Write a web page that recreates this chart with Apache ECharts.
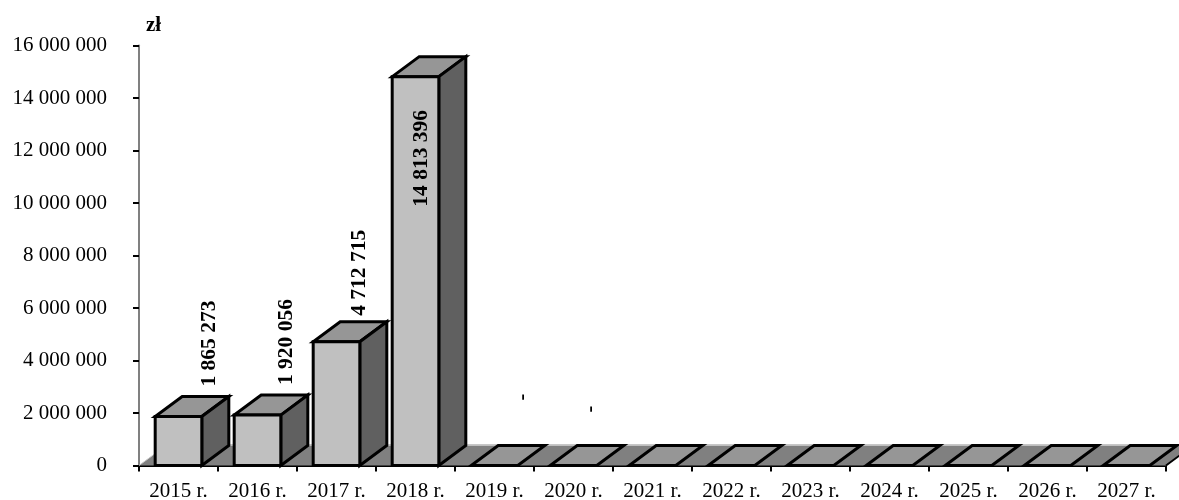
<!DOCTYPE html>
<html><head><meta charset="utf-8">
<style>html,body{margin:0;padding:0;background:#fff}#c{width:1179px;height:500px}</style>
<script src="https://cdn.jsdelivr.net/npm/echarts@6/dist/echarts.min.js"></script>
</head><body><div id="c"></div>
<script>
const categories = ['2015 r.','2016 r.','2017 r.','2018 r.','2019 r.','2020 r.','2021 r.','2022 r.','2023 r.','2024 r.','2025 r.','2026 r.','2027 r.'];
const values = [1865273,1920056,4712715,14813396,0,0,0,0,0,0,0,0,0];
const valueLabels = ['1 865 273','1 920 056','4 712 715','14 813 396','-','-','','','','','','',''];
const yMax = 16000000, yStep = 2000000;
const FONT = '"Liberation Serif","Times New Roman",serif';
const DX = 27, DY = 20;
const labelShift = [[31,-30],[29,-30],[23,-26],[6,130],[28,-65],[17,-53]];
const fmt = v => String(v).replace(/\B(?=(\d{3})+$)/g,' ');
const chart = echarts.init(document.getElementById('c'), null, {renderer:'canvas'});
const edge = {stroke:'#000',lineWidth:3,lineJoin:'miter'};
chart.setOption({
  animation:false,
  grid:{left:139,top:45.5,width:1027,height:420,containLabel:false,outerBoundsMode:'none'},
  graphic:[{type:'text',left:146,top:15,style:{text:'zł',font:'bold 21px '+FONT,fill:'#000'}}],
  xAxis:{type:'category',data:categories,boundaryGap:true,
    axisLine:{lineStyle:{color:'#000',width:2}},
    axisTick:{show:true,alignWithLabel:false,length:6,lineStyle:{color:'#000',width:2}},
    axisLabel:{color:'#000',fontFamily:FONT,fontSize:21,margin:15,interval:0}},
  yAxis:{type:'value',min:0,max:yMax,interval:yStep,
    axisLine:{show:true,lineStyle:{color:'#808080',width:2}},
    axisTick:{show:true,length:6,lineStyle:{color:'#000',width:2}},
    splitLine:{show:false},
    axisLabel:{color:'#000',fontFamily:FONT,fontSize:21,margin:32,formatter:fmt}},
  series:[{
    type:'custom',coordinateSystem:'cartesian2d',clip:false,
    data:categories.map((c,i)=>[i,0]),
    silent:true,z:1,
    renderItem:(p,api)=>{
      if(p.dataIndex!==0) return null;
      const a=api.coord([0,0]), bw=api.size([1,0])[0];
      const x0=a[0]-bw/2, x1=x0+bw*categories.length, y=a[1];
      return {type:'group',children:[
        {type:'polygon',shape:{points:[[x0,y],[x1,y],[x1+DX,y-DY],[x0+DX,y-DY]]},style:{fill:'#808080',stroke:null}},
        {type:'line',shape:{x1:x0,y1:y,x2:x0+DX,y2:y-DY},style:{stroke:'#c8c8c8',lineWidth:1}},
        {type:'line',shape:{x1:x0+DX,y1:y-DY-1,x2:x1+DX,y2:y-DY-1},style:{stroke:'#c8c8c8',lineWidth:1}},
        {type:'line',shape:{x1:x1,y1:y,x2:x1+DX,y2:y-DY},style:{stroke:'#000',lineWidth:2}}
      ]};
    }
  },{
    type:'custom',coordinateSystem:'cartesian2d',clip:false,z:3,
    data:values.map((v,i)=>[i,v]),
    encode:{x:0,y:1},
    renderItem:(p,api)=>{
      const i=api.value(0), v=api.value(1);
      const top=api.coord([i,v]), base=api.coord([i,0]);
      const w=api.size([1,0])[0]*0.59;
      const l=top[0]-w/2, r=top[0]+w/2, t=top[1], b=base[1];
      const ch=[
        {type:'polygon',shape:{points:[[l,t],[r,t],[r+DX,t-DY],[l+DX,t-DY]]},style:{fill:'#969696',...edge}}
      ];
      if(v>0){
        ch.push({type:'polygon',shape:{points:[[r,t],[r+DX,t-DY],[r+DX,b-DY],[r,b]]},style:{fill:'#606060',...edge}});
        ch.push({type:'polygon',shape:{points:[[l,t],[r,t],[r,b],[l,b]]},style:{fill:'#c0c0c0',...edge}});
      }
      if(valueLabels[i]){
        const s=labelShift[i];
        const size=valueLabels[i].length>1?21.5:20;
        ch.push({type:'text',rotation:Math.PI/2,x:top[0]+s[0],y:t+s[1],
          style:{text:valueLabels[i],font:'bold '+size+'px '+FONT,fill:'#000',textAlign:'left',textVerticalAlign:'middle'}});
      }
      return {type:'group',children:ch};
    }
  }]
});
</script></body></html>
